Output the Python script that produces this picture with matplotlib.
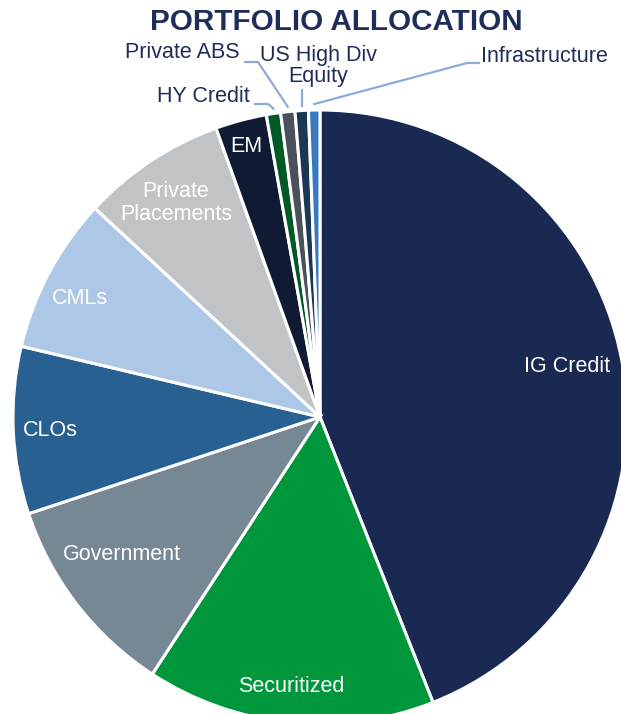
import numpy as np
import matplotlib
matplotlib.use("Agg")
import matplotlib.pyplot as plt

plt.rcParams['font.family'] = ['Liberation Sans', 'DejaVu Sans']

# allocation in percent, clockwise from 12 o'clock
labels = ['IG Credit', 'Securitized', 'Government', 'CLOs', 'CMLs',
          'Private\nPlacements', 'EM', 'HY Credit', 'Private ABS',
          'US High Div\nEquity', 'Infrastructure']
values = [44.0, 15.2, 10.7, 8.8, 8.2, 7.6, 2.7, 0.75, 0.75, 0.7, 0.6]
colors = ['#1a2952', '#00963c', '#778895', '#286091', '#acc8e6',
          '#c1c4c7', '#101a33', '#005a26', '#4b5159', '#1a3756', '#3a79c0']

W, H = 621, 714
fig = plt.figure(figsize=(W / 100, H / 100), dpi=100)
ax = fig.add_axes([0, 0, 1, 1])

cx, cy, r = 320, H - 417, 307

wedges, _ = ax.pie(values, colors=colors, startangle=90, counterclock=False,
                   radius=r, center=(cx, cy), frame=True,
                   wedgeprops=dict(edgecolor='white', linewidth=2.2))
ax.set_xlim(0, W)
ax.set_ylim(0, H)
ax.set_aspect('equal')
ax.axis('off')

# labels inside the slices (pixel positions, y from top)
inside = {0: (567, 367), 1: (291, 686), 2: (122, 554), 3: (50, 430),
          4: (80, 299), 5: (176, 203), 6: (246, 147)}
for i, (x, y) in inside.items():
    ax.text(x, H - y, labels[i], color='white', fontsize=15.5,
            ha='center', va='center', linespacing=1.15)

# small slices: label outside with a leader line
navy = '#1f2d5a'
lead = '#8eaadc'


def edge_point(w, frac=1.0):
    a = np.deg2rad((w.theta1 + w.theta2) / 2)
    return cx + r * frac * np.cos(a), cy + r * frac * np.sin(a)


# HY Credit
ex, ey = edge_point(wedges[7])
ax.plot([255, 268, ex], [H - 104, H - 104, ey + 5], color=lead, lw=1.6)
ax.text(250, H - 97, labels[7], color=navy, fontsize=15.5, ha='right', va='center')

# Private ABS
ex, ey = edge_point(wedges[8])
ax.plot([245, 258, ex], [H - 62, H - 62, ey + 5], color=lead, lw=1.6)
ax.text(240, H - 53, labels[8], color=navy, fontsize=15.5, ha='right', va='center')

# US High Div Equity
ex, ey = edge_point(wedges[9])
ax.plot([ex, ex], [H - 90, ey + 5], color=lead, lw=1.6)
ax.text(318, H - 66, labels[9], color=navy, fontsize=15.5, ha='center',
        va='center', linespacing=1.05)

# Infrastructure
ex, ey = edge_point(wedges[10])
ax.plot([479, 467, ex], [H - 63, H - 63, ey + 6], color=lead, lw=1.6)
ax.text(481, H - 56, labels[10], color=navy, fontsize=15.5, ha='left', va='center')

ax.text(336, H - 22, 'PORTFOLIO ALLOCATION', color=navy, fontsize=21.3,
        fontweight='bold', ha='center', va='center')

fig.savefig('out.png', dpi=100)
